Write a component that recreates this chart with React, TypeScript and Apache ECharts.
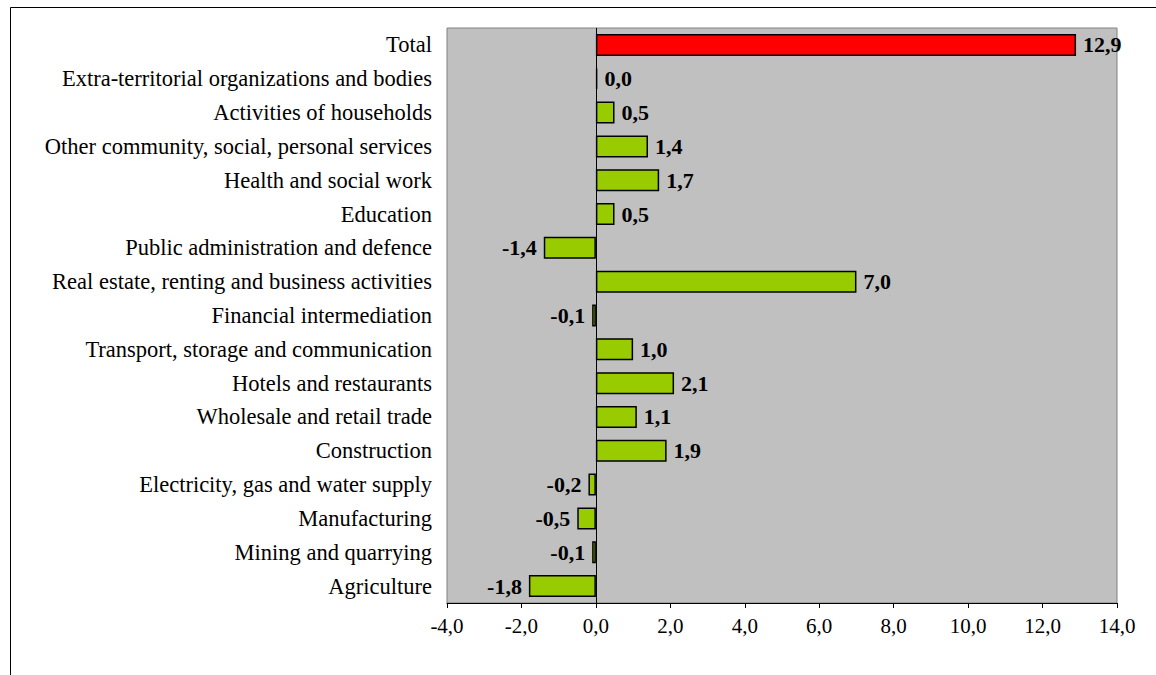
import React, { useEffect, useRef } from "react";
import * as echarts from "echarts";

// Sectors listed bottom-to-top (category axis starts at the bottom)
const sectors = [
  "Agriculture",
  "Mining and quarrying",
  "Manufacturing",
  "Electricity, gas and water supply",
  "Construction",
  "Wholesale and retail trade",
  "Hotels and restaurants",
  "Transport, storage and communication",
  "Financial intermediation",
  "Real estate, renting and business activities",
  "Public administration and defence",
  "Education",
  "Health and social work",
  "Other community, social, personal services",
  "Activities of households",
  "Extra-territorial organizations and bodies",
  "Total",
];

const contributions = [
  -1.8, -0.1, -0.5, -0.2, 1.9, 1.1, 2.1, 1.0, -0.1, 7.0, -1.4, 0.5, 1.7, 1.4, 0.5, 0.04, 12.9,
];

const xTicks = { min: -4, max: 14, step: 2 };

const SERIF = "'Liberation Serif', 'Times New Roman', serif";
const fmt = (v: number) => v.toFixed(1).replace(".", ",");

export default function App() {
  const ref = useRef<HTMLDivElement>(null);

  useEffect(() => {
    if (!ref.current) return;
    const chart = echarts.init(ref.current, null, { renderer: "svg" });

    const data = contributions.map((v, i) => ({
      value: v,
      itemStyle: { color: sectors[i] === "Total" ? "#FF0000" : "#99CC00" },
      label: { position: v < 0 ? "left" : "right" },
    }));

    chart.setOption({
      animation: false,
      backgroundColor: "#FFFFFF",
      graphic: [
        {
          type: "rect",
          shape: { x: 10.5, y: 7.5, width: 1200, height: 720 },
          style: { fill: "none", stroke: "#000000", lineWidth: 1 },
          silent: true,
          z: 100,
        },
      ],
      grid: {
        left: 447,
        right: 39,
        top: 28,
        bottom: 72,
        show: true,
        backgroundColor: "#C0C0C0",
        borderColor: "#808080",
        borderWidth: 1,
      },
      xAxis: {
        type: "value",
        min: xTicks.min,
        max: xTicks.max,
        interval: xTicks.step,
        splitLine: { show: false },
        axisLine: { show: true, onZero: false, lineStyle: { color: "#000000", width: 1 } },
        axisTick: { show: true, inside: false, length: 5, lineStyle: { color: "#000000" } },
        axisLabel: {
          color: "#000000",
          fontFamily: SERIF,
          fontSize: 21,
          margin: 12,
          formatter: (v: number) => fmt(v),
        },
      },
      yAxis: {
        type: "category",
        data: sectors,
        axisLine: { show: false },
        axisTick: { show: false },
        axisLabel: {
          color: "#000000",
          fontFamily: SERIF,
          fontSize: 22.5,
          margin: 15,
        },
      },
      series: [
        {
          type: "bar",
          data,
          barWidth: 22,
          itemStyle: { borderColor: "#000000", borderWidth: 1.5 },
          label: {
            show: true,
            color: "#000000",
            fontFamily: SERIF,
            fontSize: 22,
            fontWeight: "bold",
            distance: 7,
            formatter: (p: any) => fmt(p.value),
          },
          markLine: {
            silent: true,
            symbol: "none",
            label: { show: false },
            lineStyle: { color: "#000000", width: 1, type: "solid" },
            data: [{ xAxis: 0 }],
            z: 1,
          },
        },
      ],
    });

    return () => chart.dispose();
  }, []);

  return (
    <div
      ref={ref}
      style={{ position: "fixed", left: 0, top: 0, width: 1156, height: 675 }}
    />
  );
}
